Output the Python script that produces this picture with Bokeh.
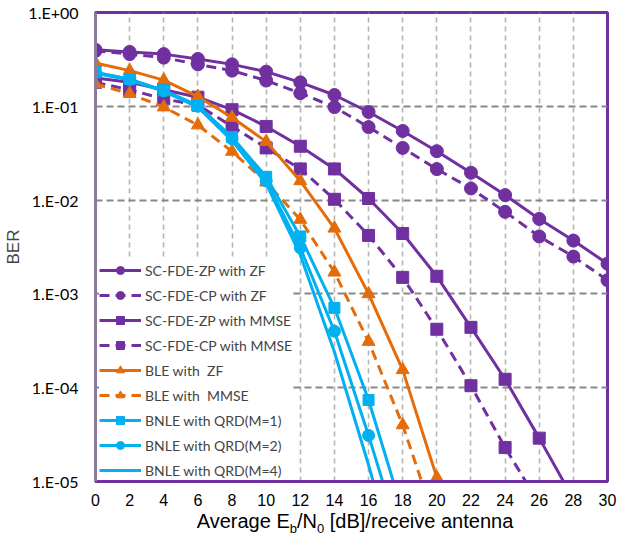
from bokeh.plotting import figure
from bokeh.models import (Range1d, FixedTicker, CustomJSTickFormatter, Legend, LegendItem, Div)
from bokeh.layouts import column
from bokeh.embed import file_html
from bokeh.resources import INLINE

# ---------------- data ----------------
snr = [0, 2, 4, 6, 8, 10, 12, 14, 16, 18, 20, 22, 24, 26, 28, 30]
sc_zp_zf = [0.40, 0.38, 0.36, 0.32, 0.28, 0.234, 0.18, 0.132, 0.087, 0.0546,
            0.0332, 0.0196, 0.0113, 0.0063, 0.0037, 0.0021]
sc_cp_zf = [0.39, 0.36, 0.33, 0.28, 0.24, 0.188, 0.138, 0.098, 0.060, 0.036,
            0.0214, 0.0133, 0.0075, 0.0041, 0.0025, 0.0014]
snr_zp_mmse = [0, 2, 4, 6, 8, 10, 12, 14, 16, 18, 20, 22, 24, 26, 28]
sc_zp_mmse = [0.20, 0.18, 0.15, 0.125, 0.092, 0.061, 0.0375, 0.0215, 0.0104,
              0.0044, 0.00154, 4.4e-4, 1.23e-4, 2.9e-5, 6.5e-6]
snr_cp_mmse = [0, 2, 4, 6, 8, 10, 12, 14, 16, 18, 20, 22, 24, 26]
sc_cp_mmse = [0.18, 0.15, 0.12, 0.103, 0.061, 0.036, 0.0215, 0.0102, 0.0042,
              0.0015, 4.2e-4, 1.05e-4, 2.3e-5, 5.8e-6]
snr_ble_zf = [0, 2, 4, 6, 8, 10, 12, 14, 16, 18, 20, 22]
ble_zf = [0.29, 0.24, 0.19, 0.127, 0.076, 0.042, 0.0160, 0.0050, 0.0010,
          1.55e-4, 1.1e-5, 5e-7]
snr_ble_mmse = [0, 2, 4, 6, 8, 10, 12, 14, 16, 18, 20]
ble_mmse = [0.173, 0.136, 0.098, 0.063, 0.033, 0.0155, 0.0062, 0.0017,
            3.1e-4, 4.0e-5, 3.3e-6]
snr_bnle = [0, 2, 4, 6, 8, 10, 12, 14, 16, 18]
bnle_m1 = [0.23, 0.195, 0.148, 0.102, 0.047, 0.0177, 0.0041, 7.1e-4, 7.4e-5, 4.7e-6]
bnle_m2 = [0.23, 0.193, 0.146, 0.100, 0.045, 0.016, 0.0031, 4.0e-4, 3.1e-5, 2.0e-6]
bnle_m4 = [0.225, 0.19, 0.144, 0.098, 0.043, 0.015, 0.0026, 2.4e-4, 1.5e-5, 7.5e-7]

x_ticks = list(range(0, 31, 2))
y_ticks = [1e-5, 1e-4, 1e-3, 1e-2, 1e-1, 1e0]
y_exps = [-5, -4, -3, -2, -1, 0]
y_tick_labels = ["1.E-05", "1.E-04", "1.E-03", "1.E-02", "1.E-01", "1.E+00"]

labels = ["SC-FDE-ZP with ZF", "SC-FDE-CP with ZF", "SC-FDE-ZP with MMSE",
          "SC-FDE-CP with MMSE", "BLE with  ZF", "BLE with  MMSE",
          "BNLE with QRD(M=1)", "BNLE with QRD(M=2)", "BNLE with QRD(M=4)"]

PURPLE = "#7030A0"
ORANGE = "#E46C0A"
BLUE = "#00B0F0"

p = figure(width=618, height=512, y_axis_type="log",
           x_range=Range1d(0, 30), y_range=Range1d(1e-5, 1.0),
           output_backend="svg", toolbar_location=None,
           min_border_left=95, min_border_top=12, min_border_right=11,
           min_border_bottom=31)

p.background_fill_color = "white"
p.border_fill_color = "white"
p.outline_line_color = PURPLE
p.outline_line_width = 3

# axes
p.xaxis.ticker = FixedTicker(ticks=x_ticks)
p.yaxis.ticker = FixedTicker(ticks=y_ticks)
p.yaxis.formatter = CustomJSTickFormatter(
    args=dict(lab=dict(zip([str(e) for e in y_exps], y_tick_labels))),
    code="return lab[String(Math.round(Math.log10(tick)))];")
for ax in (p.xaxis[0], p.yaxis[0]):
    ax.major_tick_line_color = None
    ax.minor_tick_line_color = None
    ax.major_tick_out = 0
    ax.major_tick_in = 0
    ax.minor_tick_out = 0
    ax.major_label_text_color = "black"
p.xaxis.axis_line_color = PURPLE
p.xaxis.axis_line_width = 3
p.yaxis.axis_line_color = "#8B7A9E"
p.yaxis.axis_line_width = 3
p.xaxis.major_label_text_font = "Liberation Sans"
p.xaxis.major_label_text_font_size = "16px"
p.xaxis.major_label_standoff = 12
p.yaxis.major_label_text_font = "Lato"
p.yaxis.major_label_text_font_size = "16px"
p.yaxis.major_label_standoff = 17
p.yaxis.axis_label = "BER"
p.yaxis.axis_label_text_font = "Liberation Sans"
p.yaxis.axis_label_text_font_size = "17px"
p.yaxis.axis_label_text_font_style = "normal"
p.yaxis.axis_label_standoff = 2

# grid
p.xgrid.ticker = FixedTicker(ticks=x_ticks)
p.ygrid.ticker = FixedTicker(ticks=y_ticks)
p.xgrid.grid_line_color = "#B4B4B4"
p.xgrid.grid_line_width = 1.6
p.xgrid.grid_line_dash = "5 4"
p.ygrid.grid_line_color = "#888888"
p.ygrid.grid_line_width = 2.2
p.ygrid.grid_line_dash = "7 4"

LW = 3
items = []

def add(xs, ys, color, dash, marker, size, label):
    rs = [p.line(xs, ys, line_color=color, line_width=LW, line_dash=dash)]
    if marker is not None:
        rs.append(p.scatter(xs, ys, marker=marker, size=size, fill_color=color,
                            line_color=color, line_width=1))
    items.append(LegendItem(label=label, renderers=rs))

add(snr, sc_zp_zf, PURPLE, "solid", "circle", 13, labels[0])
add(snr, sc_cp_zf, PURPLE, "10 6", "circle", 13, labels[1])
add(snr_zp_mmse, sc_zp_mmse, PURPLE, "solid", "square", 12, labels[2])
add(snr_cp_mmse, sc_cp_mmse, PURPLE, "10 6", "square", 12, labels[3])
add(snr_ble_zf, ble_zf, ORANGE, "solid", "triangle", 13, labels[4])
add(snr_ble_mmse, ble_mmse, ORANGE, "10 6", "triangle", 13, labels[5])
add(snr_bnle, bnle_m1, BLUE, "solid", "square", 11, labels[6])
add(snr_bnle, bnle_m2, BLUE, "solid", "circle", 12, labels[7])
add(snr_bnle, bnle_m4, BLUE, "solid", None, 0, labels[8])

legend = Legend(items=items, location=(4, 1), padding=4, margin=0,
                spacing=5, glyph_width=42, glyph_height=20, label_height=20,
                label_standoff=4, border_line_color=None,
                background_fill_color="white", background_fill_alpha=1.0,
                label_text_font="Lato", label_text_font_size="14px")
p.add_layout(legend, "center")

xlabel = Div(text='<span style="position:relative;left:46px;">Average E<sub style="font-size:13px;line-height:0">b</sub>/N<sub style="font-size:13px;line-height:0">0</sub> [dB]/receive antenna</span>',
             width=618, height=22, margin=(0, 0, 0, 0),
             styles={"font-family": "Liberation Sans", "font-size": "20px",
                     "text-align": "center", "line-height": "18px",
                     "color": "black"})

layout = column(p, xlabel, spacing=0)

open("out.html", "w").write(file_html(layout, INLINE))
